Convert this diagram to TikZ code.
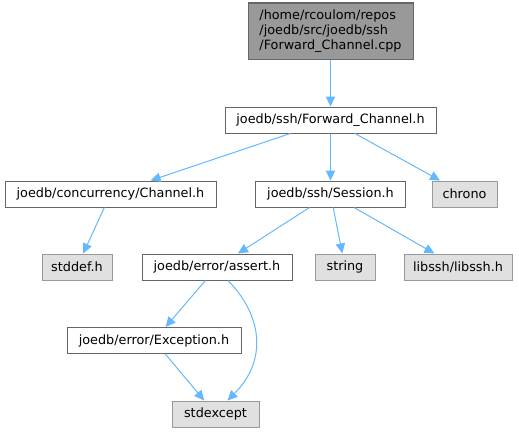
\documentclass[tikz,border=0pt]{standalone}
\usepackage{fontspec}
\setmainfont{DejaVu Sans}
\usetikzlibrary{arrows.meta,calc}
\definecolor{edgecol}{HTML}{63B8FF}
\definecolor{sysfill}{HTML}{E0E0E0}
\definecolor{sysdraw}{HTML}{999999}
\definecolor{topfill}{HTML}{999999}
\definecolor{boxdraw}{HTML}{666666}
\begin{document}
\begin{tikzpicture}[x=0.75pt,y=-0.75pt,
  every node/.style={font=\fontsize{9.6}{11.25}\selectfont, inner sep=0pt, minimum height=19.5pt},
  filebox/.style={draw=boxdraw, fill=white, line width=0.75pt},
  sysbox/.style={draw=sysdraw, fill=sysfill, line width=0.75pt},
  topbox/.style={draw=boxdraw, fill=topfill, line width=0.75pt, align=left, minimum width=123.75pt, minimum height=42pt},
  dep/.style={draw=edgecol, line width=0.75pt, -{Triangle[length=7.5pt,width=7pt]}}]
\useasboundingbox (0,0) rectangle (519,432);
\node[topbox] (top) at (330.5,31) {/home/rcoulom/repos\\/joedb/src/joedb/ssh\\/Forward\_Channel.cpp};
\node[filebox, minimum width=158.25pt] (fc) at (330.5,120) {joedb/ssh/Forward\_Channel.h};
\node[filebox, minimum width=158.25pt] (chan) at (110.5,194) {joedb/concurrency/Channel.h};
\node[filebox, minimum width=112.5pt] (sess) at (330.5,194) {joedb/ssh/Session.h};
\node[sysbox, minimum width=48.75pt] (chrono) at (464.5,194) {chrono};
\node[sysbox, minimum width=52.5pt] (stddef) at (77,267) {stddef.h};
\node[filebox, minimum width=112.5pt] (assert) at (217,267) {joedb/error/assert.h};
\node[sysbox, minimum width=45pt] (string) at (345,267) {string};
\node[sysbox, minimum width=81pt] (libssh) at (458,267) {libssh/libssh.h};
\node[filebox, minimum width=130.5pt] (exc) at (154,340.5) {joedb/error/Exception.h};
\node[sysbox, minimum width=65.25pt] (stdexc) at (215.5,414) {stdexcept};
\draw[dep] (top) -- (fc);
\draw[dep] (fc) -- (chan);
\draw[dep] (fc) -- (sess);
\draw[dep] (fc) -- (chrono);
\draw[dep] (chan) -- (stddef);
\draw[dep] (sess) -- (assert);
\draw[dep] (sess) -- (string);
\draw[dep] (sess) -- (libssh);
\draw[dep] (assert) -- (exc);
\draw[dep] (exc) -- (stdexc);
\draw[dep] ($(assert.south)+(11,0)$) .. controls (262,315) and (268,360) .. ($(stdexc.north)+(12,0)$);
\end{tikzpicture}
\end{document}
